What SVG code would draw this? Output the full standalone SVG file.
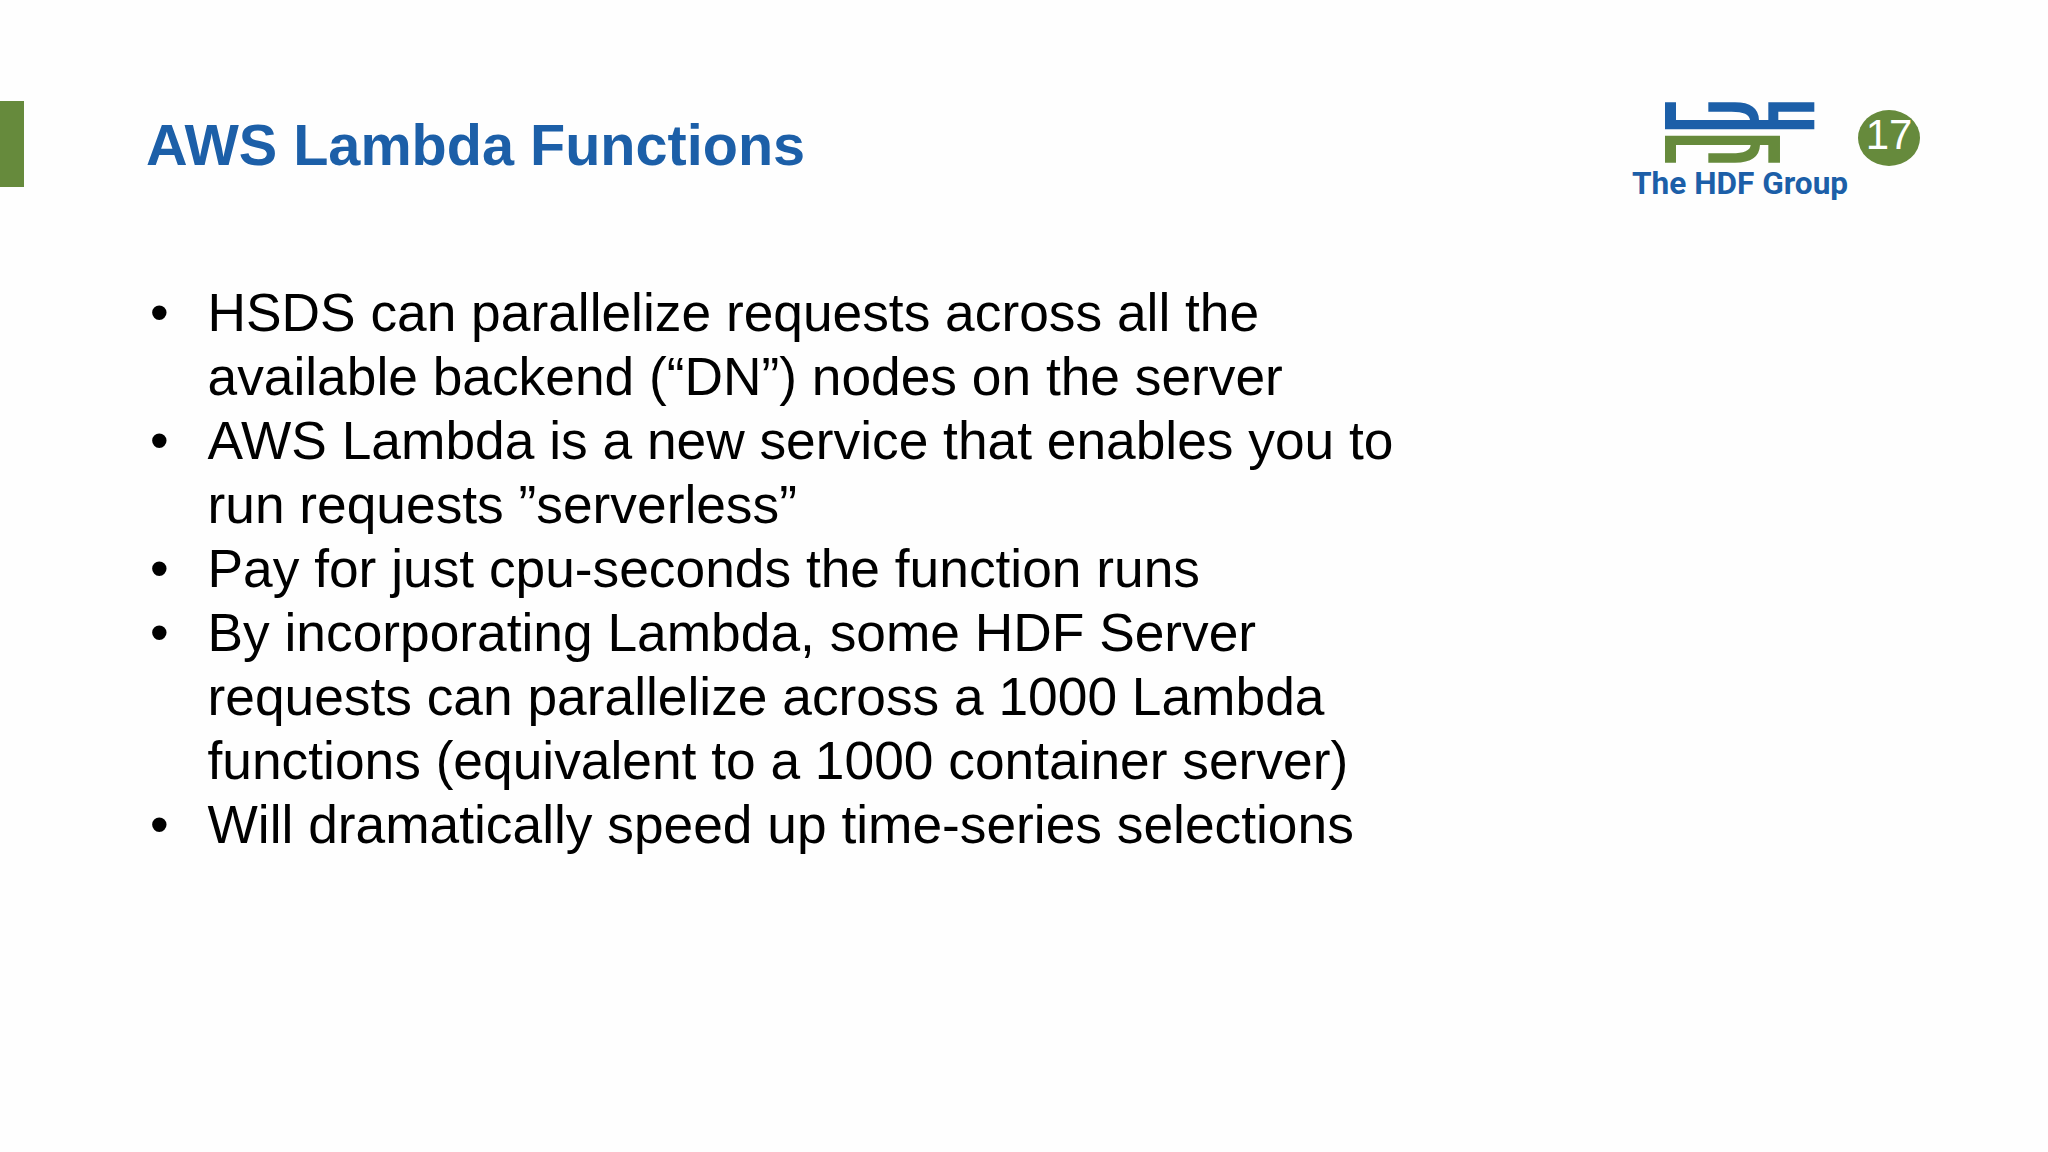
<svg xmlns="http://www.w3.org/2000/svg" width="2048" height="1152" viewBox="0 0 2048 1152">
<style>
.b{font-family:"Liberation Sans",Arial,sans-serif;font-size:53.3px;fill:#000}
.t{font-family:"Liberation Sans",Arial,sans-serif;font-size:57.6px;font-weight:700;fill:#1c5fa8}
</style>
<rect width="2048" height="1152" fill="#fefefe"/>
<rect id="accent" x="0" y="101" width="24" height="86" fill="#668a3c"/>
<text id="title" class="t" x="146" y="165">AWS Lambda Functions</text>
<g id="logo">
<g transform="translate(1660,95) scale(.3333)">
<path fill="#1c5fa8" d="M15,22H48V75H270Q268,50 215,50H145V22H225Q295,22 297,75H325V22H463V50H355V75H463V103H15Z"/>
<path fill="#668a3c" d="M15,122H360V203H325V150H300Q298,203 225,203H145V175H215Q270,175 272,150H48V203H15Z"/>
</g>
<text x="1632" y="194" style="font-family:Roboto,sans-serif;font-weight:700;font-size:31.6px;fill:#1c5fa8">The HDF Group</text>
</g>
<g id="page">
<ellipse cx="1889" cy="138" rx="31" ry="28" fill="#668a3c"/>
<text x="1889" y="149" text-anchor="middle" style="font-family:'Liberation Sans',sans-serif;font-size:42px;fill:#fff">17</text>
</g>
<g id="body">
<text class="b" x="150" y="331">•</text><text class="b" x="207.5" y="331">HSDS can parallelize requests across all the</text>
<text class="b" x="207.5" y="395">available backend (“DN”) nodes on the server</text>
<text class="b" x="150" y="459">•</text><text class="b" x="207.5" y="459">AWS Lambda is a new service that enables you to</text>
<text class="b" x="207.5" y="523">run requests ”serverless”</text>
<text class="b" x="150" y="587">•</text><text class="b" x="207.5" y="587">Pay for just cpu-seconds the function runs</text>
<text class="b" x="150" y="651">•</text><text class="b" x="207.5" y="651">By incorporating Lambda, some HDF Server</text>
<text class="b" x="207.5" y="715">requests can parallelize across a 1000 Lambda</text>
<text class="b" x="207.5" y="779">functions (equivalent to a 1000 container server)</text>
<text class="b" x="150" y="843">•</text><text class="b" x="207.5" y="843">Will dramatically speed up time-series selections</text>
</g>
</svg>
